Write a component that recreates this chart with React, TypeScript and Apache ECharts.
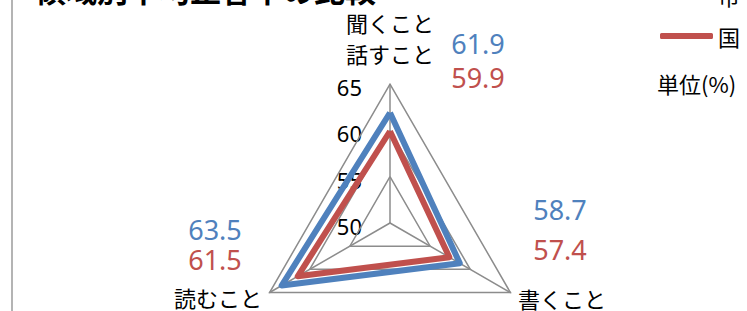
import React, { useEffect, useRef } from "react";
import * as echarts from "echarts";

const categories = ["聞くこと\n話すこと", "読むこと", "書くこと"];
const seriesNames = ["市", "国"];
const cityValues = [61.9, 63.5, 58.7];
const nationValues = [59.9, 61.5, 57.4];
const tickLabels = [50, 55, 60, 65];
const titleText = "領域別平均正答率の比較";
const unitText = "単位(%)";

const BLUE = "#4f81bd";
const RED = "#c0504d";
const GRID = "#8c8c8c";
const CJK = "'Noto Sans CJK JP', 'Noto Sans', sans-serif";
const NUM = "'Noto Sans', 'Noto Sans CJK JP', sans-serif";

const CX = 390;
const CY = 223;
const R = 139;
const MIN = 50;
const MAX = 65;

// label anchor positions per category (layout only)
const catPos = [
  { x: 390, y: 37, align: "center" },
  { x: 262, y: 297, align: "right" },
  { x: 518, y: 298, align: "left" },
];
const valPos = [
  { x: 478, yA: 43, yB: 77 },
  { x: 215, yA: 229, yB: 259 },
  { x: 560, yA: 209, yB: 249 },
];

export default function App() {
  const ref = useRef<HTMLDivElement>(null);
  useEffect(() => {
    if (!ref.current) return;
    const chart = echarts.init(ref.current, null, { renderer: "svg" });
    const graphics: any[] = [];
    graphics.push({
      type: "rect",
      shape: { x: 12, y: -10, width: 800, height: 400 },
      style: { fill: "none", stroke: "#b4b4b4", lineWidth: 2 },
      silent: true,
    });
    graphics.push({
      type: "text",
      x: 35,
      y: -12,
      style: {
        text: titleText,
        fill: "#000",
        font: `bold 31px ${CJK}`,
        textAlign: "left",
        textVerticalAlign: "middle",
      },
    });
    graphics.push({
      type: "text",
      x: 657,
      y: 83,
      style: {
        text: unitText,
        fill: "#000",
        font: `22px ${CJK}`,
        textAlign: "left",
        textVerticalAlign: "middle",
      },
    });
    tickLabels.forEach((t) => {
      const y = CY - ((t - MIN) / (MAX - MIN)) * R + 3;
      graphics.push({
        type: "text",
        x: CX - 28,
        y,
        style: {
          text: String(t),
          fill: "#000",
          font: `22px ${NUM}`,
          textAlign: "right",
          textVerticalAlign: "middle",
        },
      });
    });
    categories.forEach((c, i) => {
      const p = catPos[i];
      graphics.push({
        type: "text",
        x: p.x,
        y: p.y,
        style: {
          text: c,
          fill: "#000",
          font: `22px ${CJK}`,
          lineHeight: 31,
          textAlign: p.align,
          textVerticalAlign: "middle",
        },
      });
      const v = valPos[i];
      graphics.push({
        type: "text",
        x: v.x,
        y: v.yA,
        style: {
          text: cityValues[i].toFixed(1),
          fill: BLUE,
          font: `27px ${NUM}`,
          textAlign: "center",
          textVerticalAlign: "middle",
        },
      });
      graphics.push({
        type: "text",
        x: v.x,
        y: v.yB,
        style: {
          text: nationValues[i].toFixed(1),
          fill: RED,
          font: `27px ${NUM}`,
          textAlign: "center",
          textVerticalAlign: "middle",
        },
      });
    });

    chart.setOption({
      animation: false,
      backgroundColor: "#fff",
      legend: {
        orient: "vertical",
        left: 655,
        top: -21,
        data: seriesNames,
        icon: "roundRect",
        itemWidth: 53,
        itemHeight: 6,
        itemGap: 19,
        textStyle: { fontSize: 22, fontFamily: CJK, color: "#000", lineHeight: 22 },
      },
      radar: {
        center: [CX, CY],
        radius: R,
        startAngle: 90,
        splitNumber: 3,
        shape: "polygon",
        indicator: categories.map((n) => ({ name: n, min: MIN, max: MAX })),
        axisName: { show: false },
        splitLine: { lineStyle: { color: GRID, width: 1.5 } },
        splitArea: { show: false },
        axisLine: { lineStyle: { color: GRID, width: 1.5 } },
        axisTick: { show: false },
        axisLabel: { show: false },
      },
      series: [
        {
          type: "radar",
          symbol: "none",
          data: [
            {
              name: seriesNames[0],
              value: cityValues,
              lineStyle: { color: BLUE, width: 6 },
              itemStyle: { color: BLUE },
            },
            {
              name: seriesNames[1],
              value: nationValues,
              lineStyle: { color: RED, width: 6 },
              itemStyle: { color: RED },
            },
          ],
        },
      ],
      graphic: graphics,
    });
    return () => chart.dispose();
  }, []);
  return (
    <div
      ref={ref}
      style={{ position: "fixed", left: 0, top: 0, width: 747, height: 311 }}
    />
  );
}
